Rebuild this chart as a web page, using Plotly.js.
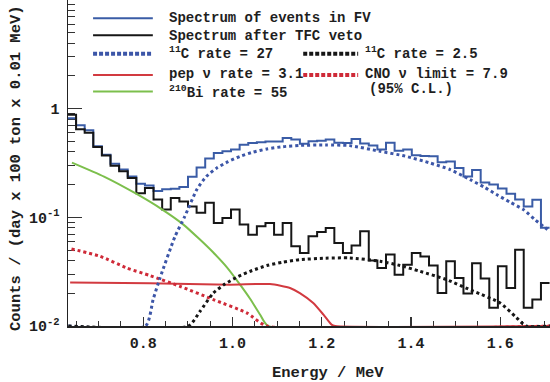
<!DOCTYPE html>
<html>
<head>
<meta charset="utf-8">
<script src="https://cdn.plot.ly/plotly-3.0.1.min.js"></script>
<style>
  html, body { margin: 0; padding: 0; background: #fff; overflow: hidden; }
  #chart { width: 550px; height: 382px; }
</style>
</head>
<body>
<div id="chart"></div>
<script>
// Energy spectrum: events in the fiducial volume (FV) and after the TFC veto,
// with the fitted 11C, pep, CNO and 210Bi components.

// Histogram binning (MeV)
const binStart = 0.63;
const binWidth = 0.0193;

// Counts / (day x 100 ton x 0.01 MeV) per bin
const fvCounts = [
  0.818, 0.705, 0.634, 0.450, 0.377, 0.312, 0.275, 0.238, 0.204, 0.196,
  0.175, 0.181, 0.183, 0.190, 0.236, 0.287, 0.347, 0.391, 0.405, 0.420,
  0.466, 0.483, 0.491, 0.500, 0.500, 0.537, 0.519, 0.475, 0.502, 0.508,
  0.519, 0.486, 0.482, 0.526, 0.479, 0.457, 0.420, 0.486, 0.411, 0.420,
  0.373, 0.366, 0.365, 0.322, 0.327, 0.284, 0.238, 0.272, 0.209, 0.200,
  0.184, 0.165, 0.146, 0.126, 0.145, 0.080
];
const vetoCounts = [
  0.881, 0.648, 0.601, 0.445, 0.370, 0.299, 0.266, 0.230, 0.167, 0.186,
  0.146, 0.118, 0.151, 0.140, 0.126, 0.110, 0.136, 0.0888, 0.0987, 0.118,
  0.0857, 0.0693, 0.0826, 0.0888, 0.0693, 0.0888, 0.0541, 0.047, 0.0668, 0.0734,
  0.0799, 0.0581, 0.047, 0.055, 0.0743, 0.0401, 0.0342, 0.0454, 0.0297, 0.0367,
  0.047, 0.0435, 0.036, 0.0201, 0.0395, 0.0277, 0.0199, 0.0377, 0.0273, 0.0147,
  0.0354, 0.0224, 0.0504, 0.0147, 0.0175, 0.0249
];

// 11C spectrum, rate = 27 (FV)
const c11FvE = [0.632, 0.805, 0.822, 0.837, 0.871, 0.893, 0.920, 0.941, 0.965, 0.990,
  1.017, 1.046, 1.077, 1.113, 1.151, 1.208, 1.263, 1.331, 1.387, 1.443,
  1.488, 1.533, 1.566, 1.592, 1.622, 1.652, 1.678, 1.697, 1.712];
const c11FvRate = [0.01, 0.01, 0.0175, 0.0273, 0.0664, 0.102, 0.180, 0.237, 0.285, 0.325,
  0.364, 0.398, 0.426, 0.447, 0.459, 0.464, 0.457, 0.405, 0.366, 0.316,
  0.275, 0.222, 0.188, 0.162, 0.138, 0.118, 0.0953, 0.0826, 0.0743];

// 11C spectrum, rate = 2.5 (after TFC veto)
const c11VetoE = [0.632, 0.901, 0.927, 0.957, 0.983, 1.013, 1.044, 1.077, 1.113, 1.151,
  1.208, 1.263, 1.331, 1.376, 1.420, 1.480, 1.540, 1.600, 1.637, 1.658, 1.712];
const c11VetoRate = [0.01, 0.01, 0.0136, 0.0201, 0.0243, 0.0286, 0.0324, 0.036, 0.0387, 0.0408,
  0.0421, 0.0423, 0.0394, 0.036, 0.0319, 0.0267, 0.0209, 0.0163, 0.0119, 0.01, 0.01];

// pep neutrinos, rate = 3.1
const pepE = [0.636, 0.815, 0.994, 1.084, 1.129, 1.151, 1.181, 1.204, 1.222, 1.230, 1.712];
const pepRate = [0.0252, 0.0247, 0.0240, 0.0243, 0.0224, 0.0201, 0.0163, 0.0127, 0.0103, 0.01, 0.01];

// CNO neutrinos, limit = 7.9 (95% C.L.)
const cnoE = [0.639, 0.703, 0.763, 0.815, 0.882, 0.957, 1.032, 1.077, 1.712];
const cnoRate = [0.0512, 0.0438, 0.0342, 0.0291, 0.0232, 0.0175, 0.0132, 0.01, 0.01];

// 210Bi, rate = 55
const biE = [0.640, 0.712, 0.785, 0.841, 0.890, 0.927, 0.957, 0.988, 1.017, 1.039, 1.062, 1.080, 1.712];
const biRate = [0.319, 0.237, 0.164, 0.119, 0.0857, 0.0624, 0.0474, 0.0345, 0.024, 0.0179, 0.0127, 0.01, 0.01];

// Legend entries
const legendLabels = [
  "Spectrum of events in FV",
  "Spectrum after TFC veto",
  "<sup>11</sup>C rate = 27",
  "pep ν rate = 3.1",
  "<sup>210</sup>Bi rate = 55",
  "<sup>11</sup>C rate = 2.5",
  "CNO ν limit = 7.9",
  "(95% C.L.)"
];

const BLUE = "#3a5ca6";
const BLUE_DOT = "#3c56a8";
const BLACK = "#161616";
const RED = "#d23a40";
const RED_DOT = "#cf2a38";
const GREEN = "#7cbf4c";
const FONT = "Courier New, Liberation Mono, monospace";
const DOTS = "3px,3px";

function stepTrace(counts, color) {
  const x = counts.map((_, i) => binStart + i * binWidth);
  x.push(binStart + counts.length * binWidth);
  const y = counts.concat([counts[counts.length - 1]]);
  return { x, y, type: "scatter", mode: "lines",
           line: { shape: "hv", color, width: 2 }, hoverinfo: "skip" };
}
function curve(x, y, color, dash) {
  return { x, y, type: "scatter", mode: "lines",
           line: { shape: "spline", smoothing: 0.6, color, width: dash ? 3 : 2, dash: dash || "solid" },
           hoverinfo: "skip" };
}

const traces = [
  stepTrace(fvCounts, BLUE),
  stepTrace(vetoCounts, BLACK),
  curve(biE, biRate, GREEN),
  curve(pepE, pepRate, RED),
  curve(cnoE, cnoRate, RED_DOT, DOTS),
  curve(c11FvE, c11FvRate, BLUE_DOT, DOTS),
  curve(c11VetoE, c11VetoRate, BLACK, DOTS)
];

// minor log ticks
const minorVals = [];
[0.01, 0.1, 1].forEach(d => { for (let m = 2; m <= 9; m++) minorVals.push(+(m * d).toPrecision(3)); });

// legend samples (paper coords of the plot area)
const col1 = [0.052, 0.176], col2 = [0.488, 0.602];
const rowY = [0.944, 0.892, 0.835, 0.770, 0.719];
const samples = [
  { xs: col1, y: rowY[0], color: BLUE, width: 2, dash: "solid" },
  { xs: col1, y: rowY[1], color: BLACK, width: 2, dash: "solid" },
  { xs: col1, y: rowY[2], color: BLUE_DOT, width: 4, dash: "4px,2px" },
  { xs: col1, y: rowY[3], color: RED, width: 2, dash: "solid" },
  { xs: col1, y: rowY[4], color: GREEN, width: 2, dash: "solid" },
  { xs: col2, y: rowY[2], color: BLACK, width: 4, dash: "4px,2px" },
  { xs: col2, y: rowY[3], color: RED_DOT, width: 4, dash: "4px,2px" }
];
const shapes = samples.map(s => ({
  type: "line", xref: "paper", yref: "paper",
  x0: s.xs[0], x1: s.xs[1], y0: s.y, y1: s.y,
  line: { color: s.color, width: s.width, dash: s.dash }
}));

const textPos = [
  [0.2054, 0.946], [0.2054, 0.891], [0.2054, 0.836], [0.2054, 0.7715], [0.2054, 0.7193],
  [0.612, 0.836], [0.612, 0.7715], [0.6203, 0.7285]
];
const legendFont = { family: FONT, size: 14, weight: "bold", color: "#1e1e1e" };
const annotations = legendLabels.map((t, i) => ({
  text: t, xref: "paper", yref: "paper", x: textPos[i][0], y: textPos[i][1],
  xanchor: "left", yanchor: "middle", showarrow: false, font: legendFont
}));
const titleFont = { family: FONT, size: 15.5, weight: "bold", color: "#1e1e1e" };
annotations.push({
  text: "Energy / MeV", xref: "paper", yref: "paper", x: 0.5394, y: -0.1442,
  xanchor: "center", yanchor: "middle", showarrow: false, font: titleFont
});
annotations.push({
  text: "Counts / (day x 100 ton x 0.01 MeV)", xref: "paper", yref: "paper",
  x: -0.1079, y: 0.4847, textangle: -90,
  xanchor: "center", yanchor: "middle", showarrow: false, font: titleFont
});

const tickFont = { family: FONT, size: 15, weight: "bold", color: "#1e1e1e" };
const layout = {
  width: 550, height: 382,
  margin: { l: 68, r: 0, t: 0, b: 56 },
  paper_bgcolor: "#fff", plot_bgcolor: "#fff",
  showlegend: false,
  xaxis: {
    range: [0.6312, 1.7118],
    tickmode: "linear", tick0: 0, dtick: 0.2, tickformat: ".1f",
    ticks: "inside", ticklen: 9, tickwidth: 1.2, tickcolor: "#333",
    minor: { tickmode: "linear", tick0: 0, dtick: 0.05, ticks: "inside", ticklen: 5, tickwidth: 1, tickcolor: "#333" },
    showline: true, linecolor: "#222", linewidth: 1.5,
    showgrid: false, zeroline: false, layer: "below traces",
    tickfont: tickFont, ticklabelstandoff: 2
  },
  yaxis: {
    type: "log", range: [-2, 1],
    tickmode: "array", tickvals: [0.01, 0.1, 1],
    ticktext: ["10<sup>-2</sup>", "10<sup>-1</sup>", "1"],
    ticks: "inside", ticklen: 14, tickwidth: 1.2, tickcolor: "#333",
    minor: { tickmode: "array", tickvals: minorVals, ticks: "inside", ticklen: 7, tickwidth: 1, tickcolor: "#333" },
    showline: true, linecolor: "#222", linewidth: 1.5,
    showgrid: false, zeroline: false, layer: "below traces",
    tickfont: tickFont, ticklabelstandoff: 4
  },
  shapes, annotations
};

Plotly.newPlot("chart", traces, layout, { displayModeBar: false, staticPlot: true });
</script>
</body>
</html>
